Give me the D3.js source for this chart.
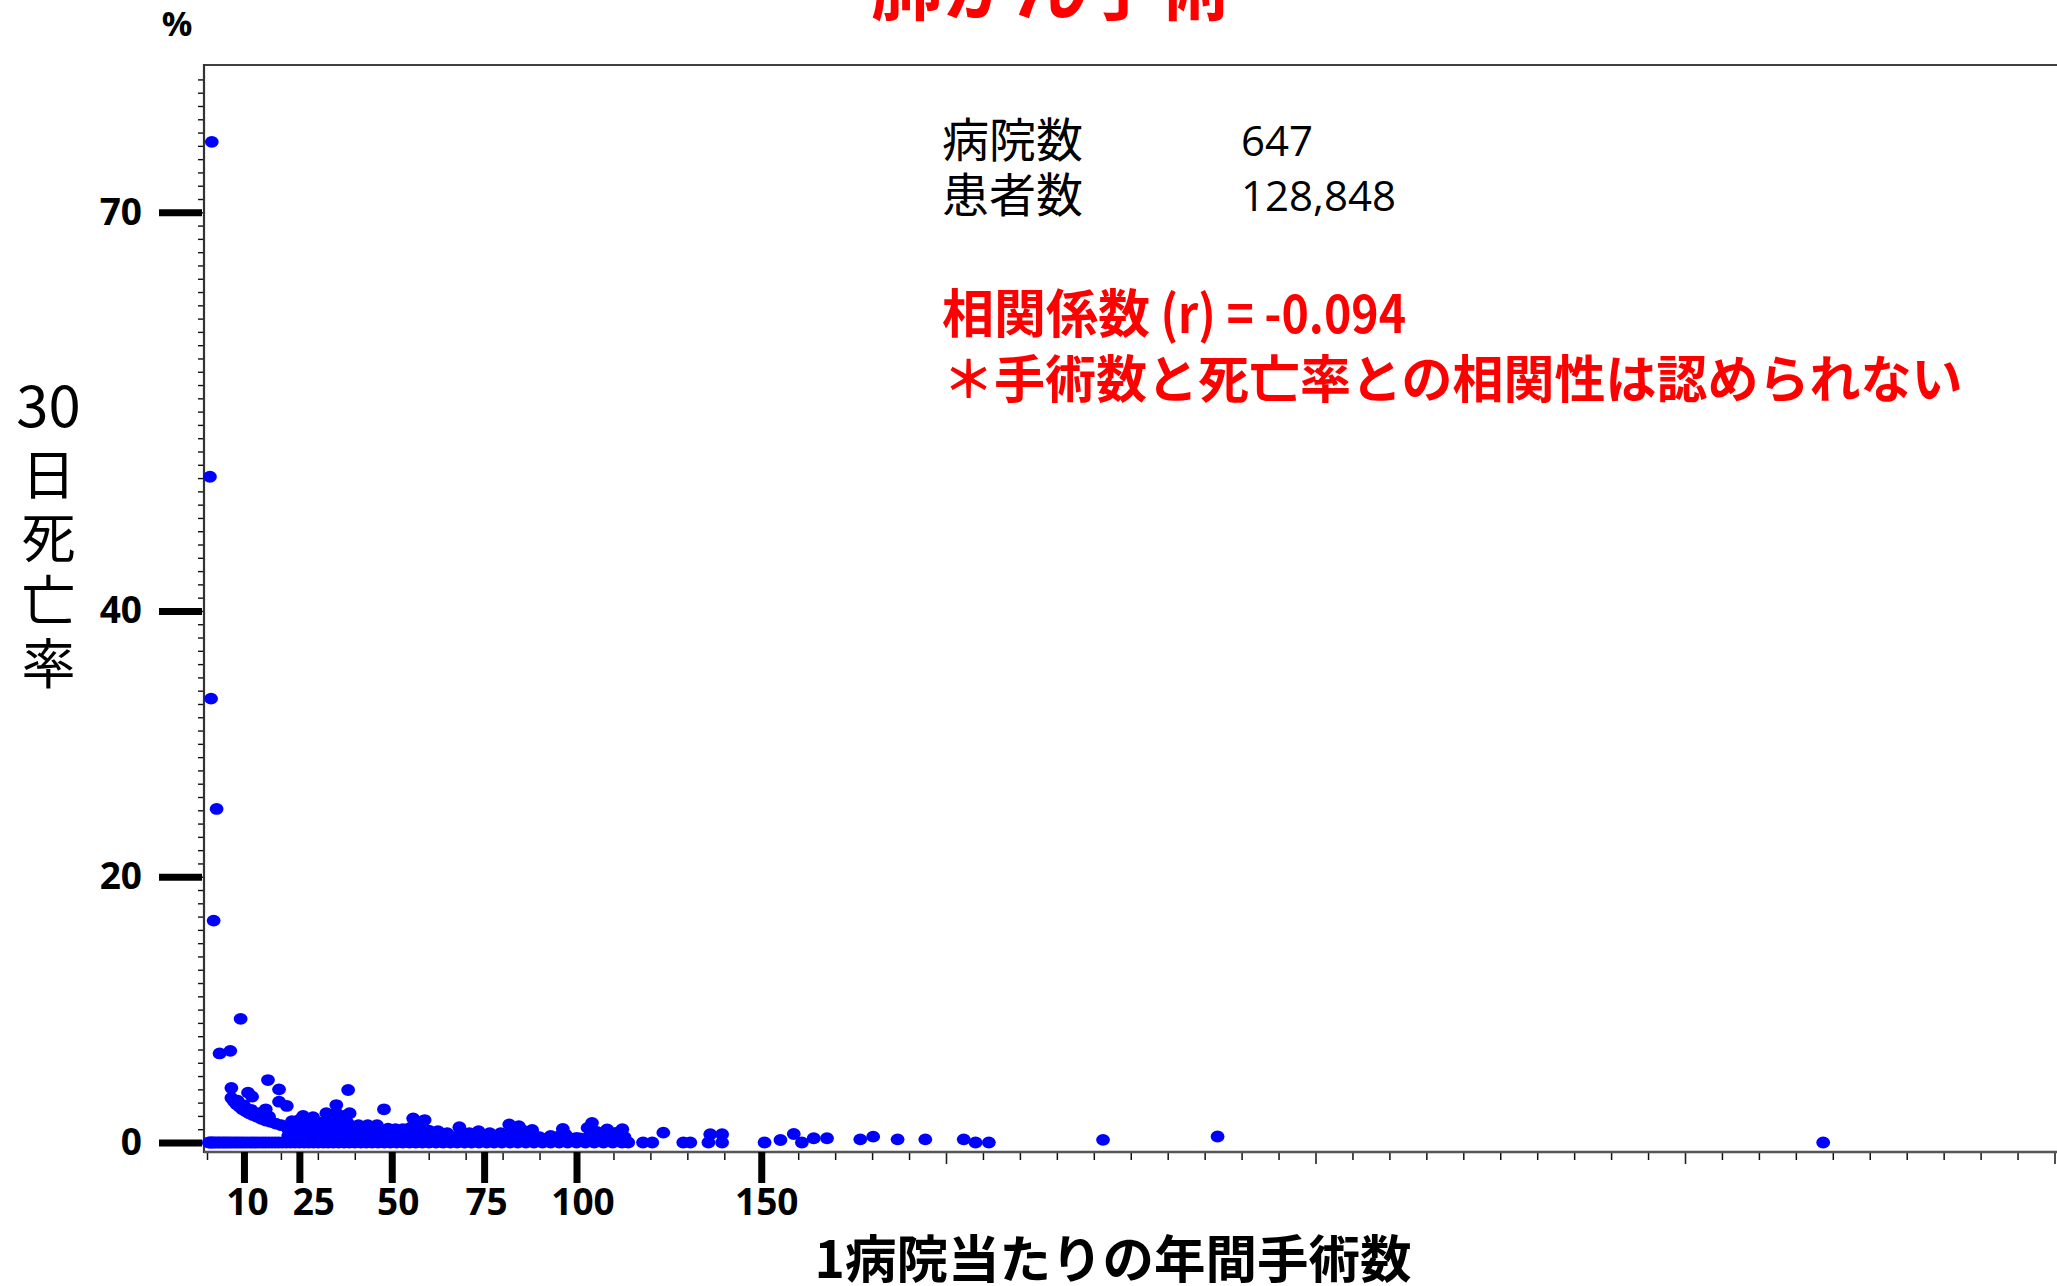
<!DOCTYPE html>
<html><head><meta charset="utf-8">
<script src="https://cdn.jsdelivr.net/npm/d3@7"></script>
<style>
html,body{margin:0;padding:0;background:#fff;overflow:hidden}
svg{display:block}
</style></head><body>
<svg id="chart" width="2057" height="1286"></svg>
<script>
// ---------- data ----------
const chartTitle = "肺がん手術";
const yAxisTitleNumber = "30";
const yAxisTitleWord = "日死亡率";
const xAxisTitle = "1病院当たりの年間手術数";
const yUnit = "%";
const statLabels = ["病院数", "患者数"];
const statValues = ["647", "128,848"];
const corrLabel = "相関係数";
const corrValue = " (r) = -0.094";
const noteText = "＊手術数と死亡率との相関性は認められない";
const xMajorTicks = [10, 25, 50, 75, 100, 150];
const yMajorTicks = [0, 20, 40, 70];

// [annual surgeries, 30-day mortality %]
const outlierPoints = [
  [1.3, 75.3], [0.8, 50.1], [1.1, 33.4], [2.6, 25.1], [1.8, 16.7],
  [9.1, 9.3], [3.4, 6.7], [6.3, 6.9], [6.6, 4.1], [11.1, 3.75], [12.2, 3.45],
  [16.5, 4.7], [19.5, 4.0], [15.9, 2.5], [19.5, 3.07], [21.6, 2.75],
  [38.2, 3.95], [47.9, 2.5]
];
const curvePoints = [
  [6.6, 3.35], [7.3, 3.1], [8.0, 2.88], [8.8, 2.68], [9.6, 2.5], [10.5, 2.34],
  [11.4, 2.2], [12.4, 2.07], [13.5, 1.95], [14.7, 1.78], [15.9, 1.65],
  [17.2, 1.55], [18.6, 1.42], [20.1, 1.3], [21.6, 1.2], [23.2, 1.12],
  [8.3, 3.15], [10.0, 2.8], [12.0, 2.45], [14.2, 2.2], [16.8, 1.95]
];
const clusterPoints = [
  [22, 0.5], [22, 1.0], [23, 1.6], [24, 0.5], [24.5, 1.1], [25, 1.7], [26, 0.5], [26.5, 1.2],
  [26, 2.0], [27.5, 1.6], [28, 0.5], [28.7, 1.9], [29, 1.0], [30, 0.5], [30.5, 1.5], [31.5, 1.0],
  [32, 0.5], [32.3, 2.2], [33, 1.5],
  [34, 0.5], [34, 1.1], [35, 2.82], [35, 2.2], [35.5, 1.6], [36, 0.5], [36.5, 1.0], [37, 2.0],
  [38, 1.5], [38, 0.5], [38.6, 2.2], [39.5, 1.0], [40, 0.5],
  [41, 1.3], [42, 0.5], [42.5, 0.9], [43.5, 1.3], [44, 0.5], [45, 1.0], [46, 1.3], [46, 0.5],
  [47.5, 0.9], [48, 0.4], [49, 1.05], [50, 0.5], [51, 1.0], [52, 0.4], [53, 1.0], [54, 0.5],
  [55.8, 1.82], [55, 1.1], [56.5, 0.6], [57.5, 1.2], [58.9, 1.69], [58.5, 0.5], [60, 0.9],
  [61, 0.4], [62.5, 0.85],
  [64, 0.4], [65, 0.7], [66.5, 0.4], [68.3, 1.15], [68, 0.5], [69.5, 0.4], [71, 0.7], [72.5, 0.4],
  [73.5, 0.86], [75, 0.5], [76.5, 0.7], [78, 0.4], [79.5, 0.7],
  [81.8, 1.36], [81, 0.6], [82.5, 0.9], [84.4, 1.23], [84, 0.4], [85.5, 0.9], [86.5, 0.5],
  [88, 0.95], [88.6, 0.5], [90, 0.4], [91, 0.25],
  [93, 0.5], [94, 0.3], [96.3, 1.03], [95.5, 0.5], [97, 0.6], [98.5, 0.3], [100, 0.35], [101, 0.3],
  [104.2, 1.48], [103, 1.1], [103.5, 0.5], [105.5, 0.8], [106.5, 0.4], [108.3, 0.98], [107.5, 0.6],
  [109.5, 0.7], [110.5, 0.35], [111, 0.75], [112.4, 1.0], [113, 0.4]
];
const tailPoints = [
  [123.5, 0.74], [136.2, 0.62], [139.4, 0.62], [155.2, 0.19], [158.8, 0.64], [164.2, 0.32],
  [167.8, 0.32], [176.8, 0.24], [180.3, 0.44], [186.9, 0.24], [194.4, 0.24], [204.8, 0.24],
  [242.5, 0.2], [273.5, 0.45]
];
// hospitals with 0% mortality (x = annual surgeries)
const zeroRateSurgeries = [
  0.5, 0.9, 1.3, 1.7, 2.2, 2.8, 3.3, 3.9, 4.5, 5, 5.6, 6.2, 6.8, 7.5, 8.1, 8.8, 9.5, 10.2, 11,
  11.8, 12.5, 13.3, 14.1, 15, 15.8, 16.7, 17.6, 18.5, 19.4, 20.4, 21.5, 22.6, 23.8, 25, 26.3,
  27.5, 28.8, 30.1, 31.5, 32.8, 34.2, 35.6, 37.1, 38.5, 40, 41.6, 43.1, 44.7, 46.3, 48, 49.6,
  51.3, 53, 54.8, 56.5, 58.3, 60.1, 62, 63.9, 65.8, 67.7, 69.7, 71.6, 73.6, 75.7, 77.7, 79.8,
  82, 84.1, 86.3, 88.5, 90.8, 93, 95.3, 97.6, 100, 102.4, 104.8, 107.3, 109.8, 112.3, 114,
  118, 120.5, 128.9, 130.8, 135.7, 139.4, 150.9, 161, 208, 211.6, 437.4
];

// ---------- layout ----------
const LATIN = "'Open Sans','Noto Sans CJK JP',sans-serif";
const CJK = "'Noto Sans CJK JP','Noto Sans CJK SC',sans-serif";
const plotLeft = 204, plotTop = 65, plotBottom = 1152, plotRight = 2064;

const x = d3.scaleLinear().domain([0, 500]).range([207, 2054.5]);
const y = d3.scaleLinear().domain([0, 70]).range([1142.5, 212.3]);
const svg = d3.select("#chart");

// frame
svg.append("line").attr("x1", plotLeft).attr("x2", plotRight).attr("y1", plotTop).attr("y2", plotTop)
  .attr("stroke", "#404040").attr("stroke-width", 2);
svg.append("line").attr("x1", plotLeft).attr("x2", plotLeft).attr("y1", plotTop - 1).attr("y2", plotBottom + 1)
  .attr("stroke", "#333").attr("stroke-width", 2.2);

// y minor ticks every 1%
svg.append("g").attr("transform", `translate(${plotLeft - 1},0)`)
  .call(d3.axisLeft(y).tickValues(d3.range(0, 81)).tickSize(5).tickFormat(""))
  .call(g => g.select(".domain").remove())
  .call(g => g.selectAll("line").attr("stroke", "#111").attr("stroke-width", 1.4));

// y major ticks
svg.append("g").attr("transform", "translate(202,0)")
  .call(d3.axisLeft(y).tickValues(yMajorTicks).tickSize(43).tickPadding(17))
  .call(g => g.select(".domain").remove())
  .call(g => g.selectAll("line").attr("stroke", "#000").attr("stroke-width", 7))
  .call(g => g.selectAll("text").attr("font-family", LATIN).attr("font-size", 37)
    .attr("font-weight", 700).attr("fill", "#000"));

// x minor ticks every 10 (longer at hundreds)
const xMinor = d3.range(0, 501, 10).filter(v => v % 100 !== 0 || v < 200);
const xHundreds = [200, 300, 400, 500];
svg.append("g").attr("transform", `translate(0,${plotBottom + 1})`)
  .call(d3.axisBottom(x).tickValues(xMinor).tickSize(7).tickFormat(""))
  .call(g => g.select(".domain").remove())
  .call(g => g.selectAll("line").attr("stroke", "#111").attr("stroke-width", 1.5));
svg.append("g").attr("transform", `translate(0,${plotBottom})`)
  .call(d3.axisBottom(x).tickValues(xHundreds).tickSize(12).tickFormat(""))
  .call(g => g.select(".domain").remove())
  .call(g => g.selectAll("line").attr("stroke", "#222").attr("stroke-width", 1.6));

// bottom axis line
svg.append("line").attr("x1", plotLeft).attr("x2", plotRight).attr("y1", plotBottom).attr("y2", plotBottom)
  .attr("stroke", "#555").attr("stroke-width", 2.5);

// x major ticks
const labelShift = {10: 3, 25: 14, 50: 6, 75: 2, 100: 6, 150: 5};
svg.append("g").attr("transform", `translate(0,${plotBottom})`)
  .call(d3.axisBottom(x).tickValues(xMajorTicks).tickSize(31))
  .call(g => g.select(".domain").remove())
  .call(g => g.selectAll("line").attr("stroke", "#000").attr("stroke-width", 7))
  .call(g => g.selectAll("text").attr("font-family", LATIN).attr("font-size", 37)
    .attr("font-weight", 700).attr("fill", "#000").attr("y", 63).attr("dy", 0)
    .attr("x", d => labelShift[d] || 0));

// points
const points = [
  ...zeroRateSurgeries.map(v => [v, 0]),
  ...clusterPoints, ...curvePoints, ...tailPoints, ...outlierPoints
];
svg.append("g").selectAll("ellipse").data(points).join("ellipse")
  .attr("cx", d => x(d[0])).attr("cy", d => y(d[1]))
  .attr("rx", 6.9).attr("ry", 5.9).attr("fill", "#0000ff");

// title (clipped at top, as in the original)
svg.append("text").attr("x", 1051).attr("y", 14).attr("text-anchor", "middle")
  .attr("font-family", CJK).attr("font-size", 72).attr("font-weight", 700).attr("fill", "#ff0000")
  .text(chartTitle);

// unit
svg.append("text").attr("x", 177).attr("y", 36).attr("text-anchor", "middle")
  .attr("font-family", LATIN).attr("font-size", 34).attr("font-weight", 700).attr("fill", "#000")
  .text(yUnit);

// y axis title: "30" horizontal, then the word written vertically
svg.append("text").attr("x", 48.5).attr("y", 427).attr("text-anchor", "middle")
  .attr("font-family", CJK).attr("font-size", 58).attr("fill", "#000")
  .text(yAxisTitleNumber);
svg.append("text").attr("x", 48.5).attr("y", 447)
  .attr("writing-mode", "vertical-rl")
  .style("text-orientation", "upright")
  .attr("letter-spacing", 9)
  .attr("font-family", CJK).attr("font-size", 54).attr("fill", "#000")
  .text(yAxisTitleWord);

// x axis title
svg.append("text").attr("x", 1113).attr("y", 1278).attr("text-anchor", "middle")
  .attr("font-family", CJK).attr("font-size", 51.5).attr("font-weight", 700).attr("fill", "#000")
  .text(xAxisTitle);

// stats
const statBaselines = [157, 212];
statLabels.forEach((lab, i) => {
  svg.append("text").attr("x", 942).attr("y", statBaselines[i])
    .attr("font-family", CJK).attr("font-size", 47).attr("fill", "#000").text(lab);
  svg.append("text").attr("x", 1241).attr("y", statBaselines[i] - 1)
    .attr("font-family", LATIN).attr("font-size", 42).attr("fill", "#000").text(statValues[i]);
});

// correlation text
const corr = svg.append("text").attr("x", 942).attr("y", 333)
  .attr("font-family", CJK).attr("font-size", 52).attr("font-weight", 700).attr("fill", "#ff0000");
corr.append("tspan").text(corrLabel);
corr.append("tspan").attr("textLength", 256).attr("lengthAdjust", "spacingAndGlyphs").text(corrValue);
svg.append("text").attr("x", 943).attr("y", 398)
  .attr("font-family", CJK).attr("font-size", 51).attr("font-weight", 700).attr("fill", "#ff0000")
  .text(noteText);
</script>
</body></html>
